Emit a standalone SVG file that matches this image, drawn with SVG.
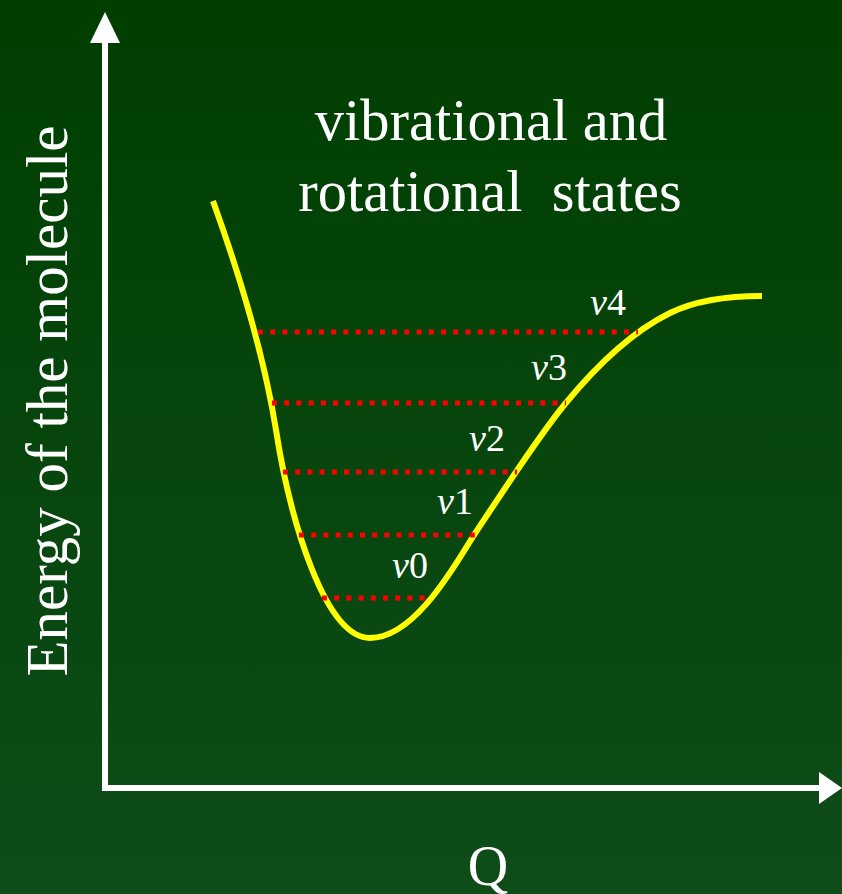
<svg xmlns="http://www.w3.org/2000/svg" width="842" height="894" viewBox="0 0 842 894">
<defs>
<linearGradient id="bg" x1="0" y1="0" x2="0" y2="1">
<stop offset="0" stop-color="#003f00"/>
<stop offset="1" stop-color="#0e4c1a"/>
</linearGradient>
<style>
.t{font-family:"Liberation Serif","Times New Roman",serif;fill:#ffffff}
.lv{stroke:#ff0000;stroke-width:5;stroke-dasharray:5 7.2;fill:none}
.ax{stroke:#ffffff;stroke-width:6;fill:none}
</style>
</defs>
<rect width="842" height="894" fill="url(#bg)"/>
<g id="axes">
<line class="ax" x1="105" y1="40" x2="105" y2="791"/>
<polygon points="105,12 90,43 120,43" fill="#ffffff"/>
<line class="ax" x1="102" y1="788" x2="822" y2="788"/>
<polygon points="842,788 819,772 819,804" fill="#ffffff"/>
</g>
<g id="curve">
<path d="M213,201 C252.6,311 268,380 276,430 C290,520 325,638 370,638 C415,638 455,565 474,535 C500.7,495 536.3,439 565,404 C593.7,369 630,332.7 670,313 C700,298.3 735,296 762,296" fill="none" stroke="#ffff00" stroke-width="6"/>
</g>
<g id="levels">
<line class="lv" x1="258" y1="332" x2="638" y2="332"/>
<line class="lv" x1="272" y1="403" x2="566" y2="403"/>
<line class="lv" x1="283" y1="472" x2="517" y2="472"/>
<line class="lv" x1="299" y1="535" x2="475" y2="535"/>
<line class="lv" x1="322" y1="598" x2="426" y2="598"/>
</g>
<g id="labels">
<text class="t" x="590" y="315" font-size="38"><tspan font-style="italic">v</tspan>4</text>
<text class="t" x="531" y="380" font-size="38"><tspan font-style="italic">v</tspan>3</text>
<text class="t" x="469" y="451" font-size="38"><tspan font-style="italic">v</tspan>2</text>
<text class="t" x="437" y="514" font-size="38"><tspan font-style="italic">v</tspan>1</text>
<text class="t" x="392" y="578" font-size="38"><tspan font-style="italic">v</tspan>0</text>
</g>
<g id="title">
<text class="t" x="491" y="140" font-size="58.5" text-anchor="middle">vibrational and</text>
<text class="t" x="490" y="211" font-size="58.5" text-anchor="middle" xml:space="preserve" style="white-space:pre">rotational  states</text>
</g>
<g id="ylabel">
<text class="t" transform="translate(67,401) rotate(-90)" font-size="59" text-anchor="middle">Energy of the molecule</text>
</g>
<g id="xlabel">
<text class="t" x="488" y="885" font-size="56" text-anchor="middle">Q</text>
</g>
</svg>
